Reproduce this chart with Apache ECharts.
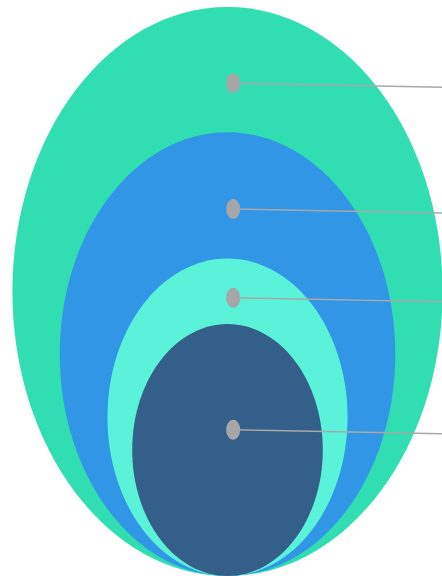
<!DOCTYPE html>
<html>
<head>
<meta charset="utf-8">
<script src="https://cdn.jsdelivr.net/npm/echarts@6/dist/echarts.min.js"></script>
<style>html,body{margin:0;padding:0;background:#fff}#c{width:442px;height:576px}</style>
</head>
<body>
<div id="c"></div>
<script>
// nested ellipse sizes (outer = 100)
const categories = ['Level 1', 'Level 2', 'Level 3', 'Level 4'];
const sizes = [100, 78.0, 55.8, 44.3];
const colors = ['#31DEB2', '#3296E6', '#5AF3DA', '#335F88'];
// label marker heights (same units as sizes)
const markerY = [86.6, 64.5, 48.9, 25.7];
const markerX = 1.0;
const leaderDrop = 0.7;

const aspect = 0.756;
const unit = 5.69;
const cx0 = 227.5;

const chart = echarts.init(document.getElementById('c'), null, {renderer: 'canvas'});

const ellipseData = sizes.map((v, i) => [0, v, i]);
const markerData = markerY.map((v, i) => [markerX, v, i]);

chart.setOption({
  animation: false,
  grid: {left: 0, top: 0, width: 442, height: 576},
  xAxis: {type: 'value', min: -cx0 / unit, max: (442 - cx0) / unit, show: false},
  yAxis: {type: 'value', min: 0, max: 576 / unit, show: false},
  series: [
    {
      type: 'custom',
      data: ellipseData,
      z: 1,
      renderItem: function (params, api) {
        const v = api.value(1);
        const idx = api.value(2);
        const c = api.coord([api.value(0), v / 2]);
        const s = api.size([v * aspect, v]);
        return {
          type: 'ellipse',
          shape: {cx: c[0], cy: c[1], rx: s[0] / 2, ry: s[1] / 2},
          style: {fill: colors[idx]}
        };
      }
    },
    {
      type: 'custom',
      data: markerData,
      z: 2,
      renderItem: function (params, api) {
        const p = api.coord([api.value(0), api.value(1)]);
        const e = api.coord([(442 - cx0) / unit, api.value(1) - leaderDrop]);
        return {
          type: 'group',
          children: [
            {type: 'line', shape: {x1: p[0], y1: p[1], x2: e[0], y2: e[1]}, style: {stroke: '#A8A8A8', lineWidth: 1.5}},
            {type: 'ellipse', shape: {cx: p[0], cy: p[1], rx: 7, ry: 10}, style: {fill: '#A6A6A6'}}
          ]
        };
      }
    }
  ]
});
</script>
</body>
</html>
